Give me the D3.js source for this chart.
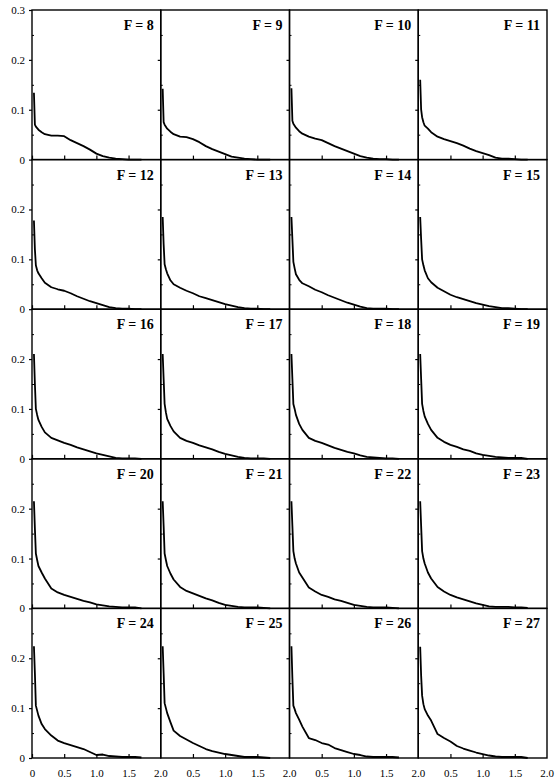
<!DOCTYPE html>
<html>
<head>
<meta charset="utf-8">
<script src="https://cdn.jsdelivr.net/npm/d3@7"></script>
<style>
  body { margin: 0; background: #fff; }
  .domain { display: none; }
</style>
</head>
<body>
<svg id="chart"></svg>
<script>
(function () {
    // common x grid (shared by every panel)
    const xGrid = [0.03, 0.045, 0.06, 0.08, 0.1, 0.15, 0.2, 0.3, 0.4, 0.5, 0.6, 0.7, 0.8, 0.9, 1.0, 1.1, 1.2, 1.3, 1.4, 1.5, 1.6, 1.7];

    const fLabels = [8, 9, 10, 11, 12, 13, 14, 15, 16, 17, 18, 19, 20, 21, 22, 23, 24, 25, 26, 27];

    const yF8  = [0.134, 0.070, 0.066, 0.063, 0.060, 0.055, 0.051, 0.048, 0.048, 0.047, 0.039, 0.033, 0.027, 0.020, 0.012, 0.007, 0.004, 0.002, 0.001, 0, 0, 0];
    const yF9  = [0.142, 0.075, 0.070, 0.066, 0.062, 0.056, 0.051, 0.046, 0.045, 0.041, 0.035, 0.027, 0.021, 0.016, 0.011, 0.006, 0.004, 0.002, 0.001, 0, 0, 0];
    const yF10 = [0.143, 0.078, 0.072, 0.068, 0.064, 0.057, 0.052, 0.046, 0.042, 0.039, 0.033, 0.027, 0.022, 0.017, 0.012, 0.007, 0.004, 0.002, 0.001, 0.001, 0, 0];
    const yF11 = [0.160, 0.100, 0.085, 0.075, 0.068, 0.062, 0.055, 0.046, 0.041, 0.037, 0.033, 0.028, 0.022, 0.017, 0.013, 0.009, 0.004, 0.002, 0.002, 0.001, 0, 0];
    const yF12 = [0.178, 0.120, 0.088, 0.078, 0.072, 0.062, 0.053, 0.044, 0.040, 0.037, 0.032, 0.026, 0.021, 0.016, 0.012, 0.008, 0.004, 0.002, 0.001, 0.001, 0, 0];
    const yF13 = [0.185, 0.130, 0.090, 0.080, 0.072, 0.058, 0.050, 0.043, 0.037, 0.032, 0.026, 0.022, 0.018, 0.014, 0.010, 0.007, 0.004, 0.002, 0.001, 0.001, 0, 0];
    const yF14 = [0.185, 0.140, 0.095, 0.082, 0.070, 0.059, 0.052, 0.046, 0.039, 0.034, 0.028, 0.023, 0.018, 0.013, 0.009, 0.005, 0.002, 0.001, 0.001, 0.001, 0, 0];
    const yF15 = [0.185, 0.140, 0.100, 0.088, 0.078, 0.062, 0.054, 0.043, 0.036, 0.029, 0.024, 0.020, 0.016, 0.012, 0.009, 0.006, 0.004, 0.002, 0.002, 0.001, 0, 0];
    const yF16 = [0.210, 0.150, 0.100, 0.088, 0.078, 0.064, 0.053, 0.042, 0.037, 0.032, 0.028, 0.023, 0.019, 0.015, 0.011, 0.008, 0.005, 0.002, 0.001, 0.001, 0.001, 0];
    const yF17 = [0.210, 0.160, 0.110, 0.093, 0.080, 0.066, 0.055, 0.042, 0.036, 0.032, 0.027, 0.023, 0.019, 0.014, 0.010, 0.007, 0.004, 0.002, 0.001, 0.001, 0.001, 0];
    const yF18 = [0.210, 0.160, 0.110, 0.100, 0.088, 0.070, 0.058, 0.042, 0.036, 0.032, 0.027, 0.022, 0.018, 0.014, 0.011, 0.007, 0.004, 0.003, 0.002, 0.001, 0.001, 0];
    const yF19 = [0.210, 0.160, 0.110, 0.096, 0.085, 0.070, 0.058, 0.042, 0.034, 0.028, 0.024, 0.019, 0.016, 0.011, 0.008, 0.006, 0.004, 0.003, 0.002, 0.002, 0.002, 0];
    const yF20 = [0.215, 0.160, 0.110, 0.097, 0.085, 0.072, 0.060, 0.040, 0.032, 0.027, 0.023, 0.019, 0.015, 0.012, 0.008, 0.006, 0.004, 0.003, 0.002, 0.002, 0.002, 0];
    const yF21 = [0.215, 0.165, 0.110, 0.097, 0.085, 0.070, 0.058, 0.043, 0.035, 0.030, 0.025, 0.020, 0.016, 0.011, 0.007, 0.005, 0.003, 0.002, 0.002, 0.002, 0.001, 0];
    const yF22 = [0.215, 0.165, 0.115, 0.100, 0.090, 0.072, 0.062, 0.042, 0.034, 0.027, 0.023, 0.018, 0.015, 0.011, 0.007, 0.005, 0.003, 0.002, 0.002, 0.002, 0.001, 0];
    const yF23 = [0.215, 0.165, 0.115, 0.100, 0.090, 0.072, 0.060, 0.043, 0.034, 0.027, 0.022, 0.018, 0.014, 0.010, 0.007, 0.004, 0.003, 0.003, 0.003, 0.002, 0.002, 0.001];
    const yF24 = [0.224, 0.170, 0.105, 0.095, 0.085, 0.068, 0.058, 0.045, 0.035, 0.030, 0.026, 0.022, 0.018, 0.012, 0.006, 0.007, 0.004, 0.003, 0.002, 0.002, 0.002, 0.001];
    const yF25 = [0.224, 0.170, 0.110, 0.100, 0.090, 0.072, 0.055, 0.044, 0.037, 0.030, 0.024, 0.018, 0.014, 0.011, 0.008, 0.006, 0.004, 0.002, 0.002, 0.002, 0.001, 0];
    const yF26 = [0.224, 0.160, 0.105, 0.098, 0.090, 0.077, 0.063, 0.040, 0.036, 0.030, 0.027, 0.020, 0.016, 0.012, 0.008, 0.006, 0.003, 0.002, 0.002, 0.002, 0.002, 0.001];
    const yF27 = [0.223, 0.165, 0.125, 0.108, 0.098, 0.085, 0.075, 0.048, 0.040, 0.033, 0.024, 0.019, 0.015, 0.011, 0.008, 0.005, 0.003, 0.002, 0.002, 0.002, 0.002, 0];

    const series = [yF8, yF9, yF10, yF11, yF12, yF13, yF14, yF15, yF16, yF17,
                    yF18, yF19, yF20, yF21, yF22, yF23, yF24, yF25, yF26, yF27];

    const yTicksMajor = [0, 0.1, 0.2, 0.3];
    const yTicksMinor = [0.05, 0.15, 0.25];
    const xTicksMajor = [0, 0.5, 1.0, 1.5, 2.0];

    const width = 557;
    const height = 783;
    const cols = 4, rows = 5;
    const left = 32, top = 10;
    const pw = (547 - left) / cols;
    const ph = (758 - top) / rows;
    const serif = '"Liberation Serif", "Times New Roman", Times, "DejaVu Serif", serif';

    const fmt = d => d === 0 ? '0' : d.toFixed(1);

    const svg = d3.select('#chart')
        .attr('width', width)
        .attr('height', height);

    series.forEach((ys, i) => {
        const c = i % cols;
        const r = Math.floor(i / cols);
        const x0 = left + c * pw;
        const y0 = top + r * ph;

        const xScale = d3.scaleLinear().domain([0, 2]).range([x0, x0 + pw]);
        const yScale = d3.scaleLinear().domain([0, 0.3]).range([y0 + ph, y0]);

        const g = svg.append('g');

        // y axis (major ticks outward, labels only in first column)
        const yMaj = r === 0 ? yTicksMajor : yTicksMajor.slice(0, 3);
        const yAxis = g.append('g')
            .attr('transform', `translate(${x0},0)`)
            .call(d3.axisLeft(yScale)
                .tickValues(c === 0 ? yMaj : [0.1, 0.2])
                .tickSize(3)
                .tickPadding(4)
                .tickFormat(c === 0 ? fmt : () => ''));
        yAxis.attr('font-family', serif).attr('font-size', 11);
        yAxis.selectAll('line').attr('stroke', '#000').attr('stroke-width', 1.2);
        yAxis.selectAll('text').style('font-family', serif).attr('fill', '#000');

        g.append('g')
            .attr('transform', `translate(${x0},0)`)
            .call(d3.axisRight(yScale).tickValues(yTicksMinor).tickSize(2).tickFormat(() => ''))
            .selectAll('line').attr('stroke', '#000').attr('stroke-width', 1);

        // x axis ticks (inward), labels only on bottom row
        const xAxis = g.append('g')
            .attr('transform', `translate(0,${y0 + ph})`)
            .call(d3.axisBottom(xScale)
                .tickValues(c === 0 ? xTicksMajor.slice(0, 4) : xTicksMajor.slice(1, 4))
                .tickSizeInner(-4)
                .tickSizeOuter(0)
                .tickPadding(11)
                .tickFormat(r === rows - 1 ? fmt : () => ''));
        xAxis.attr('font-family', serif).attr('font-size', 11);
        xAxis.selectAll('line').attr('stroke', '#000').attr('stroke-width', 1.2);
        xAxis.selectAll('text').style('font-family', serif).attr('fill', '#000');

        if (r === rows - 1) {
            // "2.0" at the right edge of each panel
            g.append('text')
                .attr('x', xScale(2))
                .attr('y', y0 + ph + 19)
                .attr('text-anchor', 'middle')
                .attr('font-size', 11)
                .style('font-family', serif)
                .text(fmt(2));
        }

        // frame
        g.append('rect')
            .attr('x', x0)
            .attr('y', y0)
            .attr('width', pw)
            .attr('height', ph)
            .attr('fill', 'none')
            .attr('stroke', '#000')
            .attr('stroke-width', 1.4);

        const line = d3.line()
            .x((d, j) => xScale(xGrid[j]))
            .y(d => yScale(d));

        g.append('path')
            .datum(ys)
            .attr('d', line)
            .attr('fill', 'none')
            .attr('stroke', '#000')
            .attr('stroke-width', 1.8)
            .attr('stroke-linejoin', 'round');

        g.append('text')
            .attr('x', x0 + pw - 7)
            .attr('y', y0 + 20)
            .attr('text-anchor', 'end')
            .attr('font-size', 14)
            .attr('font-weight', 'bold')
            .style('font-family', serif)
            .text(`F = ${fLabels[i]}`);
    });
})();
</script>
</body>
</html>
